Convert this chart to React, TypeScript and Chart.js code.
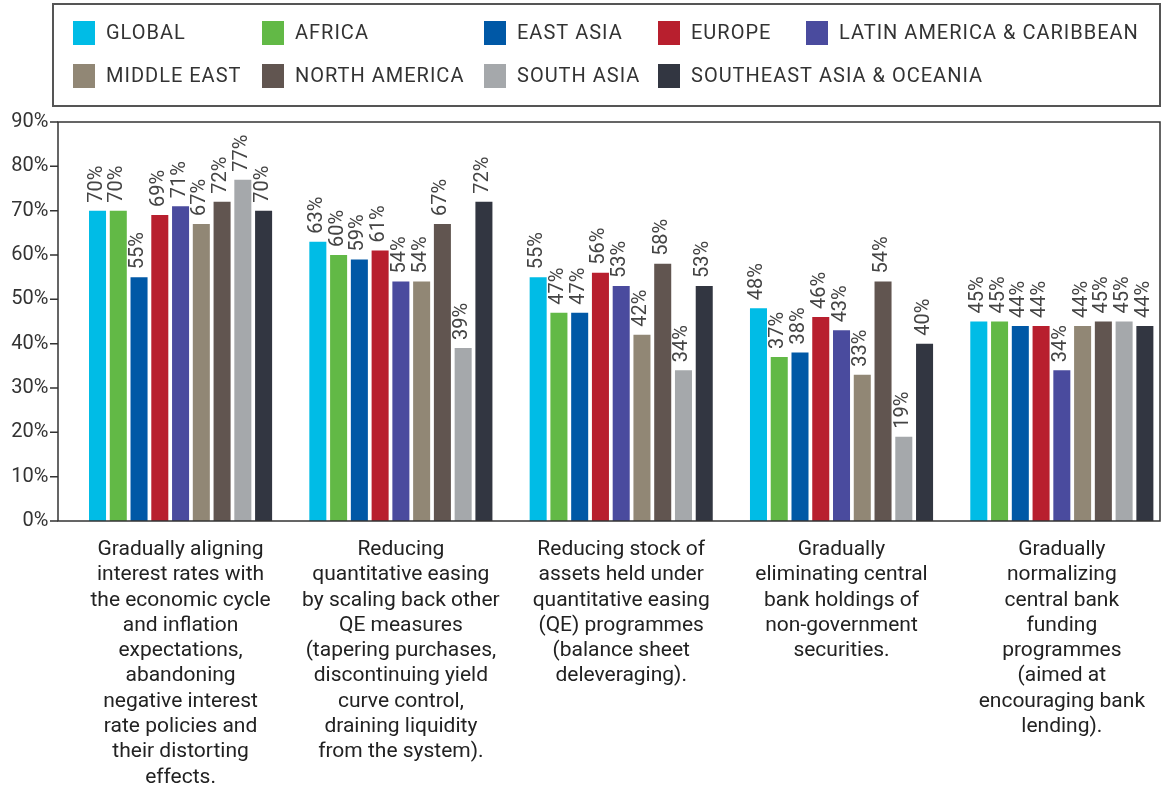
import React, { useEffect, useRef } from "react";
import { Chart, registerables } from "chart.js";

Chart.register(...registerables);

const categories: string[][] = [
  ["Gradually aligning", "interest rates with", "the economic cycle", "and inflation", "expectations,", "abandoning", "negative interest", "rate policies and", "their distorting", "effects."],
  ["Reducing", "quantitative easing", "by scaling back other", "QE measures", "(tapering purchases,", "discontinuing yield", "curve control,", "draining liquidity", "from the system)."],
  ["Reducing stock of", "assets held under", "quantitative easing", "(QE) programmes", "(balance sheet", "deleveraging)."],
  ["Gradually", "eliminating central", "bank holdings of", "non-government", "securities."],
  ["Gradually", "normalizing", "central bank", "funding", "programmes", "(aimed at", "encouraging bank", "lending)."],
];

const seriesNames = [
  "GLOBAL",
  "AFRICA",
  "EAST ASIA",
  "EUROPE",
  "LATIN AMERICA & CARIBBEAN",
  "MIDDLE EAST",
  "NORTH AMERICA",
  "SOUTH ASIA",
  "SOUTHEAST ASIA & OCEANIA",
];

const globalValues = [70, 63, 55, 48, 45];
const africaValues = [70, 60, 47, 37, 45];
const eastAsiaValues = [55, 59, 47, 38, 44];
const europeValues = [69, 61, 56, 46, 44];
const latinAmericaValues = [71, 54, 53, 43, 34];
const middleEastValues = [67, 54, 42, 33, 44];
const northAmericaValues = [72, 67, 58, 54, 45];
const southAsiaValues = [77, 39, 34, 19, 45];
const southeastAsiaValues = [70, 72, 53, 40, 44];

const seriesValues = [
  globalValues,
  africaValues,
  eastAsiaValues,
  europeValues,
  latinAmericaValues,
  middleEastValues,
  northAmericaValues,
  southAsiaValues,
  southeastAsiaValues,
];

const seriesColors = [
  "#00BCE6",
  "#62B946",
  "#0058A6",
  "#B81F2E",
  "#4A4B9E",
  "#918775",
  "#615550",
  "#A5A8AB",
  "#323641",
];

const yTicks = [0, 10, 20, 30, 40, 50, 60, 70, 80, 90];

const FONT = "Roboto, 'DejaVu Sans', sans-serif";
const TEXT = "#333333";

const legendColumns = [73, 262, 484, 658, 806];
const legendRows = [33, 76];

const decorPlugin = {
  id: "decor",
  beforeDraw(chart: any) {
    const ctx = chart.ctx;
    ctx.save();
    // legend box
    ctx.strokeStyle = "#555555";
    ctx.lineWidth = 2;
    ctx.strokeRect(53, 4, 1107, 102);
    // legend items
    ctx.font = `20px ${FONT}`;
    ctx.textBaseline = "middle";
    ctx.textAlign = "left";
    try { (ctx as any).letterSpacing = "1px"; } catch (e) {}
    chart.data.datasets.forEach((ds: any, i: number) => {
      const row = i < 5 ? 0 : 1;
      const col = i < 5 ? i : i - 5;
      const x = legendColumns[col];
      const y = legendRows[row];
      ctx.fillStyle = ds.backgroundColor;
      ctx.fillRect(x, y - 12, 22, 24);
      ctx.fillStyle = TEXT;
      ctx.fillText(ds.label, x + 33, y + 1);
    });
    try { (ctx as any).letterSpacing = "0px"; } catch (e) {}
    ctx.restore();
  },
  afterDatasetsDraw(chart: any) {
    const ctx = chart.ctx;
    const yScale = chart.scales.y;
    const top = yScale.getPixelForValue(90);
    const bottom = yScale.getPixelForValue(0);
    ctx.save();
    // plot frame
    ctx.strokeStyle = "#333333";
    ctx.lineWidth = 1.5;
    ctx.strokeRect(58, top, 1160 - 58, bottom - top);
    ctx.beginPath();
    yTicks.forEach((v) => {
      const y = yScale.getPixelForValue(v);
      ctx.moveTo(50, y);
      ctx.lineTo(58, y);
    });
    ctx.stroke();
    // value labels
    ctx.font = `20px ${FONT}`;
    ctx.fillStyle = "#444444";
    ctx.textAlign = "left";
    ctx.textBaseline = "middle";
    chart.data.datasets.forEach((ds: any, di: number) => {
      const meta = chart.getDatasetMeta(di);
      meta.data.forEach((bar: any, i: number) => {
        const v = ds.data[i];
        ctx.save();
        ctx.translate(bar.x - 1, bar.y - 8);
        ctx.rotate(-Math.PI / 2);
        ctx.fillText(`${v}%`, 0, 0);
        ctx.restore();
      });
    });
    ctx.restore();
  },
};

export default function App() {
  const canvasRef = useRef<HTMLCanvasElement | null>(null);

  useEffect(() => {
    document.body.style.margin = "0";
    const canvas = canvasRef.current;
    if (!canvas) return;
    const chart = new Chart(canvas, {
      type: "bar",
      data: {
        labels: categories,
        datasets: seriesNames.map((name, i) => ({
          label: name,
          data: seriesValues[i],
          backgroundColor: seriesColors[i],
          borderWidth: 0,
          barPercentage: 0.82,
          categoryPercentage: 0.848,
        })),
      },
      options: {
        responsive: false,
        animation: false,
        layout: { padding: { top: 122, right: 0, bottom: 0, left: 0 } },
        plugins: {
          legend: { display: false },
          tooltip: { enabled: false },
          title: { display: false },
        },
        scales: {
          x: {
            grid: { display: false },
            border: { display: false },
            ticks: {
              autoSkip: false,
              maxRotation: 0,
              minRotation: 0,
              color: "#222222",
              padding: 8,
              font: { family: FONT, size: 21, lineHeight: 1.205 },
            },
            afterFit: (scale: any) => {
              scale.height = 265;
            },
          },
          y: {
            min: 0,
            max: 90,
            grid: { display: false },
            border: { display: false },
            ticks: {
              stepSize: 10,
              padding: 14,
              color: TEXT,
              font: { family: FONT, size: 20 },
              callback: (v: any) => `${v}%`,
            },
            afterFit: (scale: any) => {
              scale.width = 70.4;
            },
          },
        },
      },
      plugins: [decorPlugin],
    });
    return () => chart.destroy();
  }, []);

  return (
    <div style={{ position: "absolute", left: 0, top: 0, width: 1161, height: 786, overflow: "hidden", background: "#fff" }}>
      <canvas ref={canvasRef} width={1172} height={786} style={{ display: "block" }} />
    </div>
  );
}
